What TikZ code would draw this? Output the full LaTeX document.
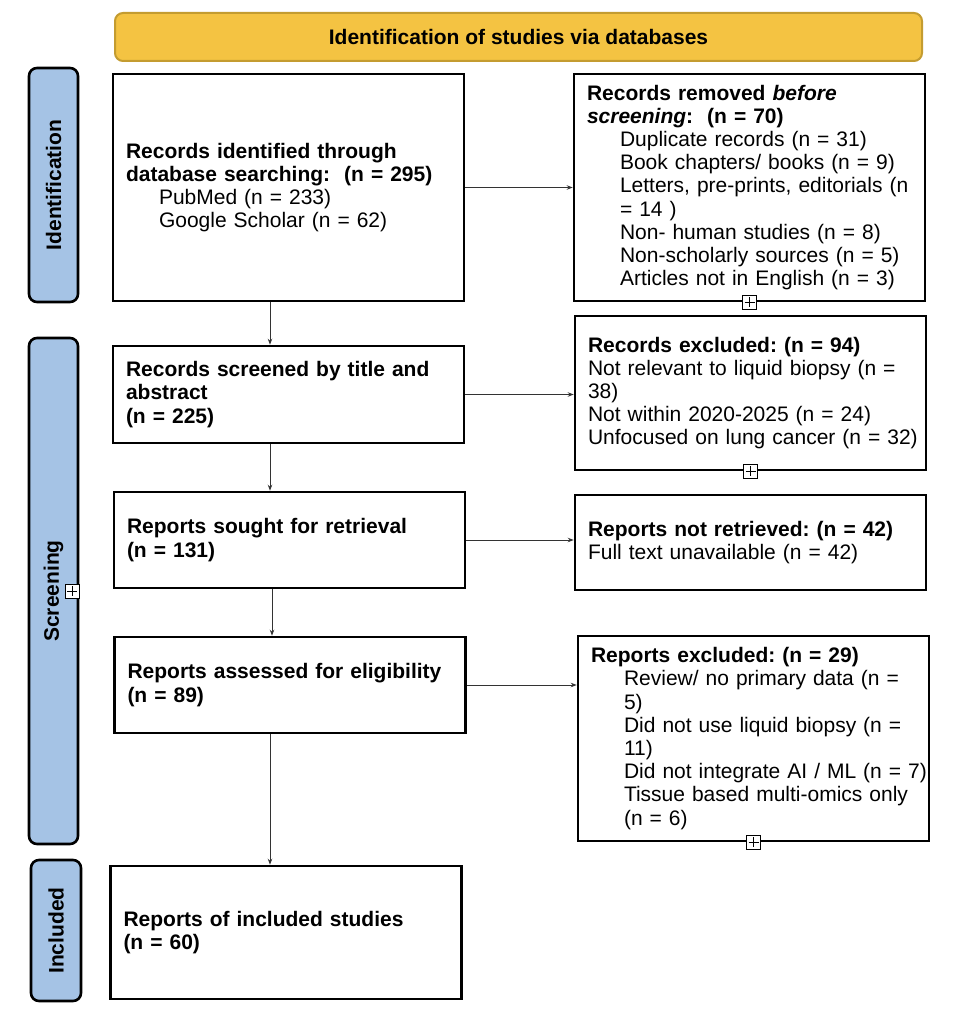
\documentclass[tikz,border=0pt]{standalone}
\usepackage{fontspec}
\setmainfont{Liberation Sans}
\usetikzlibrary{arrows.meta}
\definecolor{gold}{RGB}{244,195,66}
\definecolor{goldline}{RGB}{196,156,48}
\definecolor{sideblue}{RGB}{165,195,229}
\newcommand\myl[1]{\mbox{#1}}
\newcommand\myind{\hspace*{33pt}}
\frenchspacing
\begin{document}
\begin{tikzpicture}[x=1pt,y=-1pt,
  every node/.style={font=\fontsize{21}{23.2}\selectfont},
  box/.style={draw=black, line width=2.6pt, fill=white, minimum width=351pt,
    text width=325pt, inner xsep=13pt, inner ysep=0pt, align=left},
  side/.style={draw=black, line width=2.6pt, fill=sideblue, rounded corners=8pt,
    rotate=90, minimum height=49pt, inner sep=0pt, font=\fontsize{21}{23.2}\selectfont\bfseries},
  arr/.style={-{Stealth[length=6pt,width=4.5pt]}, line width=0.9pt, draw=black!80},
  plus/.style={draw=black, line width=0.9pt, fill=white, minimum size=14pt, inner sep=0pt,
    path picture={\draw[line width=0.9pt, shorten >=2pt, shorten <=2pt] (path picture bounding box.north) -- (path picture bounding box.south);
      \draw[line width=0.9pt, shorten >=2pt, shorten <=2pt] (path picture bounding box.west) -- (path picture bounding box.east);}}
]
\useasboundingbox (0,0) rectangle (958,1024);
\fill[white] (0,0) rectangle (958,1024);

\node[draw=goldline, line width=2pt, fill=gold, rounded corners=8pt, minimum width=807pt,
  minimum height=48pt, font=\fontsize{21}{23.2}\selectfont\bfseries] (hdr) at (518.5,37) {Identification of studies via databases};

\node[side, minimum width=234pt] (s1) at (53.5,185) {Identification};
\node[side, minimum width=506pt] (s2) at (53.5,591) {Screening};
\node[side, minimum width=141pt, minimum height=50pt] (s3) at (56,930.5) {Included};

\node[box, minimum height=227pt] (b1) at (288.5,187.5) {\myl{\textbf{Records identified through}}\\
  \myl{\textbf{database searching:\ \ (n = 295)}}\\
  \myl{\myind PubMed (n = 233)}\\
  \myl{\myind Google Scholar (n = 62)}};
\node[box, minimum height=97pt] (b2) at (288.5,394.5) {\myl{\textbf{Records screened by title and}}\\
  \myl{\textbf{abstract}}\\ \myl{\textbf{(n = 225)}}};
\node[box, minimum height=96pt] (b3) at (289.5,540) {\myl{\textbf{Reports sought for retrieval}}\\
  \myl{\textbf{(n = 131)}}};
\node[box, minimum height=96pt] (b4) at (290,685) {\myl{\textbf{Reports assessed for eligibility}}\\
  \myl{\textbf{(n = 89)}}};
\node[box, minimum height=133pt] (b5) at (286,932.5) {\myl{\textbf{Reports of included studies}}\\
  \myl{\textbf{(n = 60)}}};

\node[box, minimum height=227pt] (r1) at (749.5,187.5) {\myl{\textbf{Records removed \textit{before}}}\\
  \myl{\textbf{\textit{screening}:\ \ (n = 70)}}\\
  \myl{\myind Duplicate records (n = 31)}\\
  \myl{\myind Book chapters/ books (n = 9)}\\
  \myl{\myind Letters, pre-prints, editorials (n}\\
  \myl{\myind = 14 )}\\
  \myl{\myind Non- human studies (n = 8)}\\
  \myl{\myind Non-scholarly sources (n = 5)}\\
  \myl{\myind Articles not in English (n = 3)}};
\node[box, minimum height=154pt] (r2) at (750.5,393) {\myl{\textbf{Records excluded: (n = 94)}}\\
  \myl{Not relevant to liquid biopsy (n =}\\
  \myl{38)}\\
  \myl{Not within 2020-2025 (n = 24)}\\
  \myl{Unfocused on lung cancer (n = 32)}};
\node[box, minimum height=95pt] (r3) at (750.5,542.5) {\myl{\textbf{Reports not retrieved: (n = 42)}}\\
  \myl{Full text unavailable (n = 42)}};
\node[box, minimum height=205pt] (r4) at (753.5,738.5) {\myl{\textbf{Reports excluded: (n = 29)}}\\
  \myl{\myind Review/ no primary data (n =}\\
  \myl{\myind 5)}\\
  \myl{\myind Did not use liquid biopsy (n =}\\
  \myl{\myind 11)}\\
  \myl{\myind Did not integrate AI / ML (n = 7)}\\
  \myl{\myind Tissue based multi-omics only}\\
  \myl{\myind (n = 6)}};

\coordinate (vx) at (270,0);
\coordinate (vy) at (272,0);
\draw[arr] (b1.south -| vx) -- (b2.north -| vx);
\draw[arr] (b2.south -| vx) -- (b3.north -| vx);
\draw[arr] (b3.south -| vy) -- (b4.north -| vy);
\draw[arr] (b4.south -| vx) -- (b5.north -| vx);

\draw[arr] (b1.east) -- (b1.east -| r1.west);
\draw[arr] (b2.east) -- (b2.east -| r2.west);
\draw[arr] (b3.east) -- (b3.east -| r3.west);
\draw[arr] (b4.east) -- (b4.east -| r4.west);

\node[plus] (p1) at (r1.south) {};
\node[plus] (p2) at (r2.south) {};
\node[plus] (p3) at (r4.south) {};
\node[plus] (p4) at (72,591) {};
\end{tikzpicture}
\end{document}
